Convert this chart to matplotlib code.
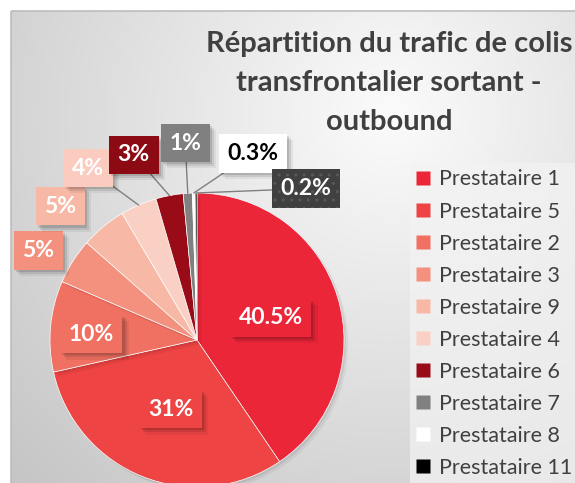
import matplotlib
matplotlib.use('Agg')
import matplotlib.pyplot as plt
import numpy as np
from matplotlib.lines import Line2D
from matplotlib.patches import Rectangle
import matplotlib.patheffects as pe

categories = ['Prestataire 1', 'Prestataire 5', 'Prestataire 2', 'Prestataire 3',
              'Prestataire 9', 'Prestataire 4', 'Prestataire 6', 'Prestataire 7',
              'Prestataire 8', 'Prestataire 11']
shares = [40.5, 31, 10, 5, 5, 4, 3, 1, 0.3, 0.2]
value_labels = ['40.5%', '31%', '10%', '5%', '5%', '4%', '3%', '1%', '0.3%', '0.2%']
title_lines = ['Répartition du trafic de colis', 'transfrontalier sortant -', 'outbound']

slice_colors = ['#EC2639', '#EE4443', '#F07062', '#F4917E', '#F8B8A6',
                '#FBD0C4', '#9A0B18', '#808080', '#FFFFFF', '#000000']
box_colors = ['#EC2639', '#EE4443', '#F07062', '#F4917E', '#F8B8A6',
              '#FACBBE', '#8B0A14', '#808080', '#FFFFFF', '#404040']
text_colors = ['white'] * 8 + ['black', 'white']
# label centres in pie-axes units (style)
label_pos = [(0.50, 0.15), (-0.18, -0.47), (-0.72, 0.04), (-1.08, 0.61),
             (-0.93, 0.91), (-0.74, 1.17), (-0.43, 1.26), (-0.08, 1.34),
             (0.38, 1.27), (0.74, 1.03)]
leader = [False, False, False, False, False, True, True, True, True, True]

W, H = 575, 483
fig = plt.figure(figsize=(W / 100, H / 100), dpi=100)
fig.patch.set_facecolor('white')

# background chart area with radial gradient
bg = fig.add_axes([0, 0, 1, 1])
bg.axis('off')
x0, y0 = 11, 11
yy, xx = np.mgrid[y0:H, x0:W]
d = np.hypot(xx - 390, yy - 115)
v = 0.985 - (0.985 - 0.775) * np.clip(d / 520, 0, 1)
img = np.dstack([v, v, v])
bg.imshow(img, extent=(x0, W, H, y0), origin='upper', aspect='auto', interpolation='bilinear')
bg.add_patch(Rectangle((x0, y0), W - x0 + 5, H - y0 + 5, fill=False, ec='#bdbdbd', lw=1.2))
bg.set_xlim(0, W)
bg.set_ylim(H, 0)

# title
title_y = [44, 83, 122]
for line, ty in zip(title_lines, title_y):
    fig.text(389 / W, 1 - ty / H, line, ha='center', va='center', fontsize=21,
             fontweight='bold', family='Lato', color='#404040')

# pie
R, cx, cy = 147, 197, 340
ax = fig.add_axes([(cx - R) / W, (H - cy - R) / H, 2 * R / W, 2 * R / H])
wedges, _ = ax.pie(shares, colors=slice_colors, startangle=90, counterclock=False,
                   radius=1, wedgeprops=dict(edgecolor='white', linewidth=0.5))
for w in wedges:
    w.set_path_effects([pe.SimplePatchShadow(offset=(3, -3), shadow_rgbFace='black', alpha=0.05),
                        pe.SimplePatchShadow(offset=(1.5, -1.5), shadow_rgbFace='black', alpha=0.07),
                        pe.Normal()])
ax.set_xlim(-1, 1)
ax.set_ylim(-1, 1)
ax.set_aspect('equal')
ax.axis('off')

soft_shadow = [pe.SimplePatchShadow(offset=(4.5, -4.5), shadow_rgbFace='black', alpha=0.06),
               pe.SimplePatchShadow(offset=(3, -3), shadow_rgbFace='black', alpha=0.09),
               pe.SimplePatchShadow(offset=(1.5, -1.5), shadow_rgbFace='black', alpha=0.12),
               pe.Normal()]

for i, w in enumerate(wedges):
    mid = np.deg2rad((w.theta1 + w.theta2) / 2)
    edge = (np.cos(mid), np.sin(mid))
    bbox = dict(boxstyle='square,pad=0.38', fc=box_colors[i], ec='none', lw=0)
    if i == 9:
        bbox.update(ec='#585858', hatch='..', lw=0)
    if leader[i]:
        t = ax.annotate(value_labels[i], xy=edge, xytext=label_pos[i],
                        ha='center', va='center', fontsize=16.5, fontweight='bold',
                        family='Lato', color=text_colors[i], bbox=bbox,
                        arrowprops=dict(arrowstyle='-', color='#7f7f7f', lw=1,
                                        shrinkA=0, shrinkB=0),
                        annotation_clip=False, zorder=5)
    else:
        t = ax.text(label_pos[i][0], label_pos[i][1], value_labels[i], ha='center', va='center',
                    fontsize=16.5, fontweight='bold', family='Lato', color=text_colors[i],
                    bbox=bbox, zorder=5, clip_on=False)
    if i != 9:
        t.get_bbox_patch().set_path_effects(soft_shadow)

# legend
handles = [Line2D([0], [0], marker='s', linestyle='none', markersize=10,
                  markerfacecolor=c, markeredgecolor='none') for c in slice_colors]
leg = fig.legend(handles, categories, loc='upper left', bbox_to_anchor=(410 / W, 1 - 163 / H),
                 frameon=True, facecolor='#f3f3f3', edgecolor='none', framealpha=0.7,
                 fancybox=False, prop=dict(family='Lato', size=15.5), labelcolor='#404040',
                 labelspacing=0.56, handlelength=0.6, handletextpad=0.45, borderpad=0.3,
                 borderaxespad=0)

fig.savefig('out.png', dpi=100)
